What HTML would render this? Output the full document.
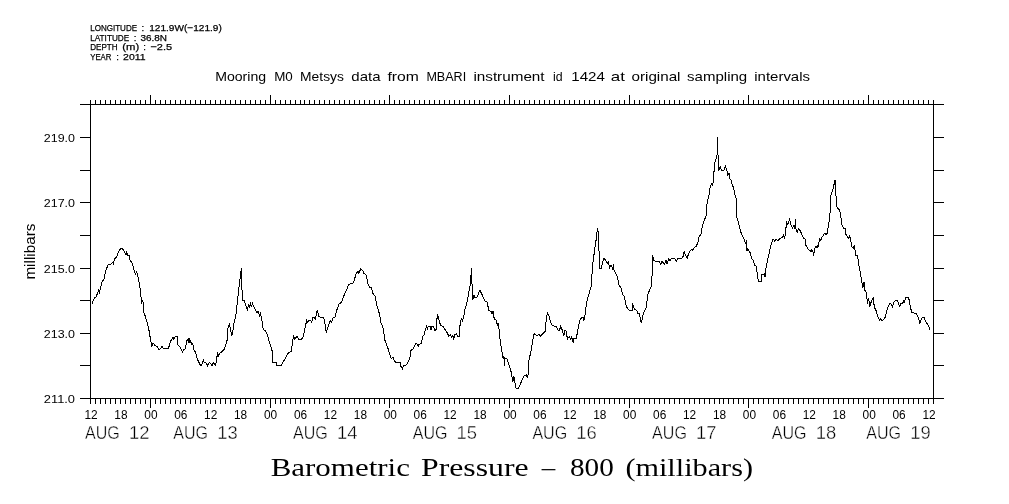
<!DOCTYPE html>
<html lang="en"><head><meta charset="utf-8"><title>Barometric Pressure - Mooring M0 Metsys</title>
<style>
html,body{margin:0;padding:0;background:#fff;}
body{width:1009px;height:504px;overflow:hidden;}
svg{display:block;}
.s,.h{font-family:"Liberation Sans",Arial,sans-serif;fill:#000;}
.d{font-family:"Liberation Sans",Arial,sans-serif;fill:#000;stroke:#fff;stroke-width:0.4;}
.h{stroke:#000;stroke-width:0.25;}
.r{font-family:"Liberation Serif","Times New Roman",serif;fill:#000;}
.ax{stroke:#000;stroke-width:1;fill:none;shape-rendering:crispEdges;}
.cv{stroke:#000;stroke-width:1;fill:none;shape-rendering:crispEdges;stroke-linejoin:miter;}
</style></head><body>
<svg width="1009" height="504" viewBox="0 0 1009 504">
<rect x="0" y="0" width="1009" height="504" fill="#fff"/>
<text class="h" x="90.2" y="30.9" font-size="9.6" textLength="46.9" lengthAdjust="spacingAndGlyphs">LONGITUDE</text>
<text class="h" x="141.6" y="30.9" font-size="9.6">:</text>
<text class="h" x="149.2" y="30.9" font-size="9.6" textLength="72.6" lengthAdjust="spacingAndGlyphs">121.9W(−121.9)</text>
<text class="h" x="90.2" y="40.7" font-size="9.6" textLength="39.0" lengthAdjust="spacingAndGlyphs">LATITUDE</text>
<text class="h" x="133.7" y="40.7" font-size="9.6">:</text>
<text class="h" x="140.5" y="40.7" font-size="9.6" textLength="26.5" lengthAdjust="spacingAndGlyphs">36.8N</text>
<text class="h" x="90.2" y="50.2" font-size="9.6" textLength="27.4" lengthAdjust="spacingAndGlyphs">DEPTH</text>
<text class="h" x="122.3" y="50.2" font-size="9.6" textLength="16.9" lengthAdjust="spacingAndGlyphs">(m)</text>
<text class="h" x="143.2" y="50.2" font-size="9.6">:</text>
<text class="h" x="150.4" y="50.2" font-size="9.6" textLength="21.7" lengthAdjust="spacingAndGlyphs">−2.5</text>
<text class="h" x="90.2" y="59.9" font-size="9.6" textLength="21.2" lengthAdjust="spacingAndGlyphs">YEAR</text>
<text class="h" x="116.2" y="59.9" font-size="9.6">:</text>
<text class="h" x="123.1" y="59.9" font-size="9.6" textLength="22.5" lengthAdjust="spacingAndGlyphs">2011</text>
<text class="s" x="215.2" y="80.8" font-size="13.4" textLength="50.9" lengthAdjust="spacingAndGlyphs">Mooring</text>
<text class="s" x="274.2" y="80.8" font-size="13.4" textLength="18.6" lengthAdjust="spacingAndGlyphs">M0</text>
<text class="s" x="300.1" y="80.8" font-size="13.4" textLength="43.8" lengthAdjust="spacingAndGlyphs">Metsys</text>
<text class="s" x="351.3" y="80.8" font-size="13.4" textLength="29.2" lengthAdjust="spacingAndGlyphs">data</text>
<text class="s" x="387.5" y="80.8" font-size="13.4" textLength="31.4" lengthAdjust="spacingAndGlyphs">from</text>
<text class="s" x="426.4" y="80.8" font-size="13.4" textLength="39.8" lengthAdjust="spacingAndGlyphs">MBARI</text>
<text class="s" x="473.4" y="80.8" font-size="13.4" textLength="71.2" lengthAdjust="spacingAndGlyphs">instrument</text>
<text class="s" x="553.1" y="80.8" font-size="13.4" textLength="9.6" lengthAdjust="spacingAndGlyphs">id</text>
<text class="s" x="571.3" y="80.8" font-size="13.4" textLength="33.6" lengthAdjust="spacingAndGlyphs">1424</text>
<text class="s" x="610.8" y="80.8" font-size="13.4" textLength="14.1" lengthAdjust="spacingAndGlyphs">at</text>
<text class="s" x="631.5" y="80.8" font-size="13.4" textLength="49.0" lengthAdjust="spacingAndGlyphs">original</text>
<text class="s" x="687.1" y="80.8" font-size="13.4" textLength="60.1" lengthAdjust="spacingAndGlyphs">sampling</text>
<text class="s" x="754.3" y="80.8" font-size="13.4" textLength="55.7" lengthAdjust="spacingAndGlyphs">intervals</text>
<path class="ax" d="M80 104.5H944M80 398.5H944M90.5 104V399M933.5 104V399M80 365.5H91M933 365.5H944M80 333.5H91M933 333.5H944M80 300.5H91M933 300.5H944M80 268.5H91M933 268.5H944M80 235.5H91M933 235.5H944M80 202.5H91M933 202.5H944M80 170.5H91M933 170.5H944M80 137.5H91M933 137.5H944M90.5 100V105M90.5 398V404M95.5 100V105M95.5 398V404M100.5 100V105M100.5 398V404M105.5 100V105M105.5 398V404M110.5 100V105M110.5 398V404M115.5 100V105M115.5 398V404M120.5 100V105M120.5 398V404M125.5 100V105M125.5 398V404M130.5 100V105M130.5 398V404M135.5 100V105M135.5 398V404M140.5 100V105M140.5 398V404M145.5 100V105M145.5 398V404M150.5 95V105M150.5 398V408M155.5 100V105M155.5 398V404M160.5 100V105M160.5 398V404M165.5 100V105M165.5 398V404M170.5 100V105M170.5 398V404M175.5 100V105M175.5 398V404M180.5 100V105M180.5 398V404M185.5 100V105M185.5 398V404M190.5 100V105M190.5 398V404M195.5 100V105M195.5 398V404M200.5 100V105M200.5 398V404M205.5 100V105M205.5 398V404M210.5 100V105M210.5 398V404M215.5 100V105M215.5 398V404M220.5 100V105M220.5 398V404M225.5 100V105M225.5 398V404M230.5 100V105M230.5 398V404M235.5 100V105M235.5 398V404M240.5 100V105M240.5 398V404M245.5 100V105M245.5 398V404M250.5 100V105M250.5 398V404M255.5 100V105M255.5 398V404M260.5 100V105M260.5 398V404M265.5 100V105M265.5 398V404M270.5 95V105M270.5 398V408M275.5 100V105M275.5 398V404M280.5 100V105M280.5 398V404M285.5 100V105M285.5 398V404M290.5 100V105M290.5 398V404M295.5 100V105M295.5 398V404M300.5 100V105M300.5 398V404M304.5 100V105M304.5 398V404M309.5 100V105M309.5 398V404M314.5 100V105M314.5 398V404M319.5 100V105M319.5 398V404M324.5 100V105M324.5 398V404M329.5 100V105M329.5 398V404M334.5 100V105M334.5 398V404M339.5 100V105M339.5 398V404M344.5 100V105M344.5 398V404M349.5 100V105M349.5 398V404M354.5 100V105M354.5 398V404M359.5 100V105M359.5 398V404M364.5 100V105M364.5 398V404M369.5 100V105M369.5 398V404M374.5 100V105M374.5 398V404M379.5 100V105M379.5 398V404M384.5 100V105M384.5 398V404M389.5 95V105M389.5 398V408M394.5 100V105M394.5 398V404M399.5 100V105M399.5 398V404M404.5 100V105M404.5 398V404M409.5 100V105M409.5 398V404M414.5 100V105M414.5 398V404M419.5 100V105M419.5 398V404M424.5 100V105M424.5 398V404M429.5 100V105M429.5 398V404M434.5 100V105M434.5 398V404M439.5 100V105M439.5 398V404M444.5 100V105M444.5 398V404M449.5 100V105M449.5 398V404M454.5 100V105M454.5 398V404M459.5 100V105M459.5 398V404M464.5 100V105M464.5 398V404M469.5 100V105M469.5 398V404M474.5 100V105M474.5 398V404M479.5 100V105M479.5 398V404M484.5 100V105M484.5 398V404M489.5 100V105M489.5 398V404M494.5 100V105M494.5 398V404M499.5 100V105M499.5 398V404M504.5 100V105M504.5 398V404M509.5 95V105M509.5 398V408M514.5 100V105M514.5 398V404M519.5 100V105M519.5 398V404M524.5 100V105M524.5 398V404M529.5 100V105M529.5 398V404M534.5 100V105M534.5 398V404M539.5 100V105M539.5 398V404M544.5 100V105M544.5 398V404M549.5 100V105M549.5 398V404M554.5 100V105M554.5 398V404M559.5 100V105M559.5 398V404M564.5 100V105M564.5 398V404M569.5 100V105M569.5 398V404M574.5 100V105M574.5 398V404M579.5 100V105M579.5 398V404M584.5 100V105M584.5 398V404M589.5 100V105M589.5 398V404M594.5 100V105M594.5 398V404M599.5 100V105M599.5 398V404M604.5 100V105M604.5 398V404M609.5 100V105M609.5 398V404M614.5 100V105M614.5 398V404M619.5 100V105M619.5 398V404M624.5 100V105M624.5 398V404M629.5 95V105M629.5 398V408M634.5 100V105M634.5 398V404M639.5 100V105M639.5 398V404M644.5 100V105M644.5 398V404M649.5 100V105M649.5 398V404M654.5 100V105M654.5 398V404M659.5 100V105M659.5 398V404M664.5 100V105M664.5 398V404M669.5 100V105M669.5 398V404M674.5 100V105M674.5 398V404M679.5 100V105M679.5 398V404M684.5 100V105M684.5 398V404M689.5 100V105M689.5 398V404M694.5 100V105M694.5 398V404M699.5 100V105M699.5 398V404M704.5 100V105M704.5 398V404M709.5 100V105M709.5 398V404M714.5 100V105M714.5 398V404M719.5 100V105M719.5 398V404M723.5 100V105M723.5 398V404M728.5 100V105M728.5 398V404M733.5 100V105M733.5 398V404M738.5 100V105M738.5 398V404M743.5 100V105M743.5 398V404M748.5 95V105M748.5 398V408M753.5 100V105M753.5 398V404M758.5 100V105M758.5 398V404M763.5 100V105M763.5 398V404M768.5 100V105M768.5 398V404M773.5 100V105M773.5 398V404M778.5 100V105M778.5 398V404M783.5 100V105M783.5 398V404M788.5 100V105M788.5 398V404M793.5 100V105M793.5 398V404M798.5 100V105M798.5 398V404M803.5 100V105M803.5 398V404M808.5 100V105M808.5 398V404M813.5 100V105M813.5 398V404M818.5 100V105M818.5 398V404M823.5 100V105M823.5 398V404M828.5 100V105M828.5 398V404M833.5 100V105M833.5 398V404M838.5 100V105M838.5 398V404M843.5 100V105M843.5 398V404M848.5 100V105M848.5 398V404M853.5 100V105M853.5 398V404M858.5 100V105M858.5 398V404M863.5 100V105M863.5 398V404M868.5 95V105M868.5 398V408M873.5 100V105M873.5 398V404M878.5 100V105M878.5 398V404M883.5 100V105M883.5 398V404M888.5 100V105M888.5 398V404M893.5 100V105M893.5 398V404M898.5 100V105M898.5 398V404M903.5 100V105M903.5 398V404M908.5 100V105M908.5 398V404M913.5 100V105M913.5 398V404M918.5 100V105M918.5 398V404M923.5 100V105M923.5 398V404M928.5 100V105M928.5 398V404M933.5 100V105M933.5 398V404"/>
<text class="s" x="43.8" y="141.8" font-size="11" textLength="31.2" lengthAdjust="spacingAndGlyphs">219.0</text>
<text class="s" x="43.8" y="206.8" font-size="11" textLength="31.2" lengthAdjust="spacingAndGlyphs">217.0</text>
<text class="s" x="43.8" y="272.8" font-size="11" textLength="31.2" lengthAdjust="spacingAndGlyphs">215.0</text>
<text class="s" x="43.8" y="337.8" font-size="11" textLength="31.2" lengthAdjust="spacingAndGlyphs">213.0</text>
<text class="s" x="43.8" y="402.8" font-size="11" textLength="31.2" lengthAdjust="spacingAndGlyphs">211.0</text>
<text class="s" font-size="13.8" textLength="56" lengthAdjust="spacingAndGlyphs" transform="translate(35.2 279.6) rotate(-90)">millibars</text>
<text class="s" x="84.4" y="419" font-size="12.3" textLength="13.2" lengthAdjust="spacingAndGlyphs">12</text>
<text class="s" x="114.3" y="419" font-size="12.3" textLength="13.2" lengthAdjust="spacingAndGlyphs">18</text>
<text class="s" x="144.3" y="419" font-size="12.3" textLength="13.2" lengthAdjust="spacingAndGlyphs">00</text>
<text class="s" x="174.2" y="419" font-size="12.3" textLength="13.2" lengthAdjust="spacingAndGlyphs">06</text>
<text class="s" x="204.1" y="419" font-size="12.3" textLength="13.2" lengthAdjust="spacingAndGlyphs">12</text>
<text class="s" x="234.0" y="419" font-size="12.3" textLength="13.2" lengthAdjust="spacingAndGlyphs">18</text>
<text class="s" x="264.0" y="419" font-size="12.3" textLength="13.2" lengthAdjust="spacingAndGlyphs">00</text>
<text class="s" x="293.9" y="419" font-size="12.3" textLength="13.2" lengthAdjust="spacingAndGlyphs">06</text>
<text class="s" x="323.8" y="419" font-size="12.3" textLength="13.2" lengthAdjust="spacingAndGlyphs">12</text>
<text class="s" x="353.8" y="419" font-size="12.3" textLength="13.2" lengthAdjust="spacingAndGlyphs">18</text>
<text class="s" x="383.7" y="419" font-size="12.3" textLength="13.2" lengthAdjust="spacingAndGlyphs">00</text>
<text class="s" x="413.6" y="419" font-size="12.3" textLength="13.2" lengthAdjust="spacingAndGlyphs">06</text>
<text class="s" x="443.5" y="419" font-size="12.3" textLength="13.2" lengthAdjust="spacingAndGlyphs">12</text>
<text class="s" x="473.5" y="419" font-size="12.3" textLength="13.2" lengthAdjust="spacingAndGlyphs">18</text>
<text class="s" x="503.4" y="419" font-size="12.3" textLength="13.2" lengthAdjust="spacingAndGlyphs">00</text>
<text class="s" x="533.3" y="419" font-size="12.3" textLength="13.2" lengthAdjust="spacingAndGlyphs">06</text>
<text class="s" x="563.3" y="419" font-size="12.3" textLength="13.2" lengthAdjust="spacingAndGlyphs">12</text>
<text class="s" x="593.2" y="419" font-size="12.3" textLength="13.2" lengthAdjust="spacingAndGlyphs">18</text>
<text class="s" x="623.1" y="419" font-size="12.3" textLength="13.2" lengthAdjust="spacingAndGlyphs">00</text>
<text class="s" x="653.1" y="419" font-size="12.3" textLength="13.2" lengthAdjust="spacingAndGlyphs">06</text>
<text class="s" x="683.0" y="419" font-size="12.3" textLength="13.2" lengthAdjust="spacingAndGlyphs">12</text>
<text class="s" x="712.9" y="419" font-size="12.3" textLength="13.2" lengthAdjust="spacingAndGlyphs">18</text>
<text class="s" x="742.8" y="419" font-size="12.3" textLength="13.2" lengthAdjust="spacingAndGlyphs">00</text>
<text class="s" x="772.8" y="419" font-size="12.3" textLength="13.2" lengthAdjust="spacingAndGlyphs">06</text>
<text class="s" x="802.7" y="419" font-size="12.3" textLength="13.2" lengthAdjust="spacingAndGlyphs">12</text>
<text class="s" x="832.6" y="419" font-size="12.3" textLength="13.2" lengthAdjust="spacingAndGlyphs">18</text>
<text class="s" x="862.6" y="419" font-size="12.3" textLength="13.2" lengthAdjust="spacingAndGlyphs">00</text>
<text class="s" x="892.5" y="419" font-size="12.3" textLength="13.2" lengthAdjust="spacingAndGlyphs">06</text>
<text class="s" x="922.4" y="419" font-size="12.3" textLength="13.2" lengthAdjust="spacingAndGlyphs">12</text>
<text class="d" x="85.0" y="439" font-size="18" textLength="34.8" lengthAdjust="spacingAndGlyphs">AUG</text>
<text class="d" x="128.9" y="439" font-size="18" textLength="20.5" lengthAdjust="spacingAndGlyphs">12</text>
<text class="d" x="173.3" y="439" font-size="18" textLength="34.8" lengthAdjust="spacingAndGlyphs">AUG</text>
<text class="d" x="217.2" y="439" font-size="18" textLength="20.5" lengthAdjust="spacingAndGlyphs">13</text>
<text class="d" x="293.0" y="439" font-size="18" textLength="34.8" lengthAdjust="spacingAndGlyphs">AUG</text>
<text class="d" x="336.9" y="439" font-size="18" textLength="20.5" lengthAdjust="spacingAndGlyphs">14</text>
<text class="d" x="412.7" y="439" font-size="18" textLength="34.8" lengthAdjust="spacingAndGlyphs">AUG</text>
<text class="d" x="456.6" y="439" font-size="18" textLength="20.5" lengthAdjust="spacingAndGlyphs">15</text>
<text class="d" x="532.4" y="439" font-size="18" textLength="34.8" lengthAdjust="spacingAndGlyphs">AUG</text>
<text class="d" x="576.3" y="439" font-size="18" textLength="20.5" lengthAdjust="spacingAndGlyphs">16</text>
<text class="d" x="652.1" y="439" font-size="18" textLength="34.8" lengthAdjust="spacingAndGlyphs">AUG</text>
<text class="d" x="696.0" y="439" font-size="18" textLength="20.5" lengthAdjust="spacingAndGlyphs">17</text>
<text class="d" x="771.8" y="439" font-size="18" textLength="34.8" lengthAdjust="spacingAndGlyphs">AUG</text>
<text class="d" x="815.7" y="439" font-size="18" textLength="20.5" lengthAdjust="spacingAndGlyphs">18</text>
<text class="d" x="866.3" y="439" font-size="18" textLength="34.8" lengthAdjust="spacingAndGlyphs">AUG</text>
<text class="d" x="910.2" y="439" font-size="18" textLength="20.5" lengthAdjust="spacingAndGlyphs">19</text>
<text class="r" x="270.7" y="475.9" font-size="24.6" textLength="139.2" lengthAdjust="spacingAndGlyphs">Barometric</text>
<text class="r" x="421.0" y="475.9" font-size="24.6" textLength="107.7" lengthAdjust="spacingAndGlyphs">Pressure</text>
<text class="r" x="540.3" y="477.9" font-size="24.6" textLength="16.8" lengthAdjust="spacingAndGlyphs">−</text>
<text class="r" x="570.0" y="475.9" font-size="24.6" textLength="43.8" lengthAdjust="spacingAndGlyphs">800</text>
<text class="r" x="625.4" y="475.9" font-size="24.6" textLength="127.6" lengthAdjust="spacingAndGlyphs">(millibars)</text>
<polyline class="cv" points="92.1,303.5 94.5,297.9 96.1,296.8 98.5,290.8 99.6,294.0 100.1,289.2 101.7,282.9 104.0,278.9 105.6,271.0 108.0,265.1 111.2,263.8 112.8,262.2 113.3,264.6 114.4,259.0 116.7,257.1 118.0,252.7 120.7,248.3 122.3,248.3 124.7,252.4 126.0,255.1 126.6,251.1 127.5,255.1 129.4,255.4 129.9,259.8 132.3,263.5 134.2,271.0 135.5,274.1 136.6,271.7 138.2,277.3 139.8,286.0 141.3,299.5 141.8,303.5 142.1,300.3 143.4,302.7 144.0,313.0 145.3,316.3 148.5,327.5 150.1,337.0 151.7,346.5 152.5,344.1 153.6,343.3 154.8,345.7 157.2,346.5 158.8,349.4 160.4,348.9 162.0,346.5 163.6,348.9 168.3,348.9 170.7,341.0 173.1,337.0 173.9,339.4 175.2,336.2 177.4,336.2 177.9,344.9 180.2,347.3 182.6,352.1 183.4,349.7 185.3,348.9 186.6,341.0 188.2,339.4 189.0,343.3 189.8,339.4 191.7,344.1 192.6,343.3 194.2,350.5 195.3,351.6 197.7,360.0 200.6,365.6 201.7,364.8 203.3,360.0 204.0,362.1 206.4,363.2 207.5,365.6 209.6,362.4 212.0,365.6 213.3,362.4 215.2,365.6 216.4,361.6 217.5,352.5 218.7,356.0 219.9,352.9 222.3,351.6 224.4,348.9 227.1,340.2 227.9,328.3 229.4,324.3 231.8,336.2 232.9,330.6 234.2,321.9 235.8,316.3 236.9,305.8 239.0,286.7 240.6,274.0 241.3,268.5 241.7,283.6 242.5,300.2 244.5,301.0 246.4,307.4 247.4,309.8 248.5,304.2 249.3,307.4 250.4,303.4 251.3,306.6 252.5,303.4 254.8,309.0 257.2,312.9 258.0,311.3 259.6,316.1 260.4,313.7 261.7,318.5 263.3,329.9 265.5,330.6 267.5,335.6 269.9,343.6 272.3,351.5 272.6,362.1 276.3,362.6 276.6,365.5 281.0,365.5 284.2,360.2 288.7,352.3 291.3,351.8 292.9,339.6 293.4,335.6 294.5,338.8 296.9,336.4 298.5,339.1 301.7,339.1 303.6,335.6 305.6,325.3 306.7,320.4 307.7,322.5 308.8,320.4 310.9,320.9 311.5,323.3 312.8,317.7 314.4,317.2 315.2,320.1 317.2,310.6 319.1,316.9 323.6,317.7 324.7,321.7 326.3,332.8 327.9,327.2 330.2,320.9 331.5,322.5 332.6,318.5 335.0,316.9 336.6,310.6 339.0,304.2 341.7,301.8 343.7,296.3 346.1,290.7 346.9,289.1 348.5,284.4 352.5,283.6 354.0,281.2 356.0,274.0 358.0,270.9 358.8,273.3 360.7,269.0 362.8,270.9 363.9,273.3 366.0,274.8 368.0,283.6 369.9,287.5 371.5,287.5 372.8,293.1 375.0,296.3 377.1,306.6 379.4,313.7 381.0,323.3 382.6,325.6 385.0,340.4 388.2,349.1 391.3,358.7 392.9,357.1 394.5,361.8 396.9,362.3 400.1,362.6 400.6,365.8 402.5,369.0 403.3,365.8 406.4,365.0 408.8,361.0 410.1,357.1 410.7,350.7 413.6,348.3 415.5,343.9 416.7,343.6 418.3,346.0 419.1,344.4 421.2,343.6 422.8,336.4 423.9,335.6 425.5,329.3 426.6,326.4 427.5,329.6 428.2,326.4 430.2,326.4 431.0,329.6 431.5,326.4 433.4,326.4 435.0,330.4 436.1,329.6 437.4,313.7 439.0,320.1 440.6,325.6 442.9,326.4 446.1,331.2 447.7,333.3 448.5,336.4 450.1,334.8 451.7,337.2 452.9,335.6 453.6,339.6 454.8,334.8 456.4,334.0 457.7,336.4 459.3,336.4 459.9,326.1 461.5,317.7 462.5,320.9 463.6,317.7 464.8,309.8 466.7,304.2 468.8,292.3 470.7,282.8 471.3,268.5 472.0,283.6 472.6,300.2 474.2,294.7 474.7,297.9 477.1,297.1 479.9,290.2 482.1,294.7 485.0,301.0 486.9,301.8 489.0,310.6 491.0,311.3 492.1,313.7 493.3,310.6 494.2,319.3 496.1,320.1 497.4,325.6 498.0,323.3 499.3,331.2 499.6,330.1 500.1,340.4 501.7,349.9 503.3,359.4 504.0,356.3 504.5,365.8 505.0,358.7 506.9,358.7 508.8,364.2 511.2,372.1 512.8,381.7 513.9,376.1 514.8,381.7 516.0,388.3 518.3,388.3 520.7,383.3 523.9,376.1 526.3,375.0 527.1,377.7 528.2,374.5 528.7,361.8 531.0,350.7 533.4,337.2 534.2,333.7 536.9,335.9 539.0,334.3 540.6,336.3 542.9,333.5 545.3,331.1 546.4,317.6 547.4,313.2 549.3,316.8 550.9,323.2 552.8,325.9 556.4,326.3 558.0,330.3 559.6,330.0 560.7,326.3 562.3,330.3 563.9,335.9 564.8,330.6 566.0,331.1 567.5,339.0 569.1,336.7 570.7,339.5 571.8,336.7 573.4,343.3 573.9,338.6 576.0,338.6 577.5,332.7 578.7,324.8 580.2,319.5 581.8,317.3 583.4,317.6 583.9,320.5 585.0,315.2 586.6,302.5 589.0,293.8 591.3,285.9 592.5,265.3 594.5,251.0 596.1,239.9 597.4,228.5 598.5,233.6 599.0,251.0 599.8,268.5 601.3,268.5 603.6,258.2 604.8,259.0 607.2,263.7 608.3,262.1 609.6,267.7 611.2,265.3 612.5,268.5 613.6,264.5 613.9,270.1 616.0,274.0 617.2,276.4 618.8,284.3 621.5,289.0 622.3,293.8 624.2,296.2 626.3,306.5 628.7,310.0 632.1,310.5 632.6,303.3 634.2,308.9 636.6,310.5 637.9,313.2 639.4,313.7 641.3,323.2 643.3,313.7 646.1,308.1 648.0,293.8 650.1,289.0 651.7,285.1 652.1,273.3 652.5,255.5 654.0,260.9 659.6,261.8 660.7,264.5 662.0,261.3 664.4,264.5 666.0,259.8 667.1,264.0 668.7,259.0 669.9,260.6 671.5,258.2 674.7,258.7 676.3,261.3 677.9,258.7 681.8,258.2 683.4,255.8 684.2,251.3 685.5,255.5 687.4,258.2 688.5,253.4 691.3,249.4 692.6,250.2 694.5,247.1 696.1,246.3 697.7,243.1 699.3,236.0 700.9,234.8 702.5,225.6 704.0,220.9 706.0,216.1 707.2,202.2 709.1,195.1 710.4,185.6 712.0,183.2 712.8,185.6 713.9,172.9 714.7,163.3 716.0,158.6 717.1,154.6 717.5,137.1 718.0,154.6 718.7,170.5 720.2,166.5 721.5,170.0 723.9,170.0 725.5,166.5 726.6,169.7 727.9,175.2 729.1,173.2 729.8,178.4 731.0,180.0 732.3,185.6 733.4,187.1 735.0,195.1 736.1,198.3 736.6,216.1 739.0,224.8 741.3,233.6 743.7,238.3 745.3,243.1 746.1,241.5 746.9,251.0 747.7,248.7 750.1,252.6 751.7,258.2 753.6,261.3 754.5,265.3 756.1,266.1 757.2,273.3 758.3,281.2 761.2,281.2 761.7,274.8 764.4,274.0 765.2,277.2 766.0,268.5 767.5,259.8 769.4,252.6 770.7,245.5 773.1,239.1 774.7,241.2 776.3,239.1 777.9,240.7 780.2,238.3 782.1,237.5 783.4,235.2 784.7,238.3 785.5,232.0 786.6,222.5 787.9,224.8 789.4,219.3 791.0,224.8 792.6,228.0 793.7,225.6 794.8,228.0 795.5,219.3 796.1,230.4 797.4,232.0 798.5,228.8 800.1,230.4 802.5,236.0 803.7,238.3 805.3,239.1 806.0,245.5 808.0,248.7 810.1,251.3 811.2,249.8 812.0,251.8 812.8,250.2 813.6,255.5 815.2,246.6 816.4,247.5 817.1,245.5 818.0,247.5 819.6,239.1 820.7,240.2 821.8,237.5 823.9,234.4 825.0,232.8 826.0,234.8 827.1,233.3 828.7,224.8 830.2,211.3 831.0,195.1 832.9,189.5 835.0,180.0 835.8,193.5 837.1,207.8 839.8,210.3 841.0,217.5 842.1,225.4 843.7,228.6 845.3,228.6 845.8,234.1 848.5,238.1 849.6,235.7 850.9,241.3 852.1,247.6 853.3,248.4 854.5,245.2 855.6,255.6 857.5,255.6 858.8,265.1 860.4,273.0 861.2,277.9 862.8,287.5 864.0,281.9 864.4,289.8 866.3,292.2 867.5,304.1 868.7,297.8 869.6,307.3 870.7,303.3 873.1,297.8 874.4,307.3 876.0,310.5 877.9,316.8 879.8,320.0 880.7,318.4 881.8,320.5 883.4,320.0 885.5,316.8 887.4,308.1 889.8,303.3 891.3,304.1 892.5,306.5 893.7,302.5 895.8,300.2 897.2,300.5 898.8,304.1 899.8,307.3 900.4,303.7 902.5,303.0 903.6,301.0 904.2,303.3 905.6,297.8 908.3,297.8 909.3,300.2 910.4,307.3 912.0,312.9 916.3,313.2 917.9,316.8 919.1,320.0 919.9,323.7 921.5,318.4 922.6,317.3 924.2,317.6 925.8,321.6 927.9,324.8 929.0,327.1 929.8,330.3"/>
</svg></body></html>
